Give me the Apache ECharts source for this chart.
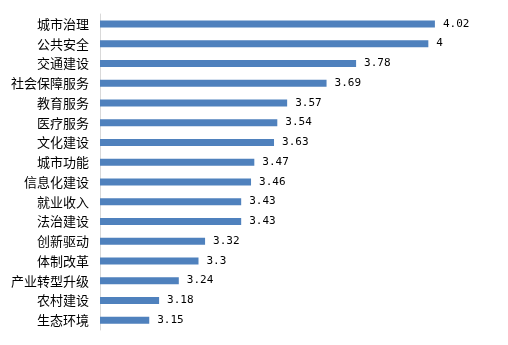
<!DOCTYPE html>
<html>
<head>
<meta charset="utf-8">
<script src="https://cdn.jsdelivr.net/npm/echarts@6/dist/echarts.min.js"></script>
<style>
html,body{margin:0;padding:0;background:#fff;}
#c{width:508px;height:345px;}
</style>
</head>
<body>
<div id="c"></div>
<script>
// top-to-bottom order as shown
var categories = ['城市治理','公共安全','交通建设','社会保障服务','教育服务','医疗服务','文化建设','城市功能','信息化建设','就业收入','法治建设','创新驱动','体制改革','产业转型升级','农村建设','生态环境'];
// bar lengths
var values = [4.02,4.00,3.78,3.69,3.57,3.54,3.53,3.47,3.46,3.43,3.43,3.32,3.30,3.24,3.18,3.15];
// label text as printed in the picture
var valueLabels = ['4.02','4','3.78','3.69','3.57','3.54','3.63','3.47','3.46','3.43','3.43','3.32','3.3','3.24','3.18','3.15'];

var chart = echarts.init(document.getElementById('c'), null, {renderer:'canvas'});
chart.setOption({
  animation:false,
  backgroundColor:'#ffffff',
  grid:{left:100, top:14, width:394, height:316, containLabel:false},
  xAxis:{
    type:'value', min:3, max:4.2, show:false
  },
  yAxis:{
    type:'category',
    data:categories,
    inverse:true,
    axisLine:{show:true, lineStyle:{color:'#d9d9d9', width:1}},
    axisTick:{show:false},
    axisLabel:{color:'#000', fontSize:13, margin:11, fontFamily:'"Noto Sans CJK SC", sans-serif'},
    splitLine:{show:false}
  },
  series:[{
    type:'bar',
    data:values,
    barWidth:7,
    itemStyle:{color:'#4f81bd'},
    label:{
      show:true, position:'right', distance:8,
      color:'#000', fontSize:11,
      fontFamily:'"DejaVu Sans Mono", monospace',
      formatter:function(p){ return valueLabels[p.dataIndex]; }
    }
  }]
});
</script>
</body>
</html>
